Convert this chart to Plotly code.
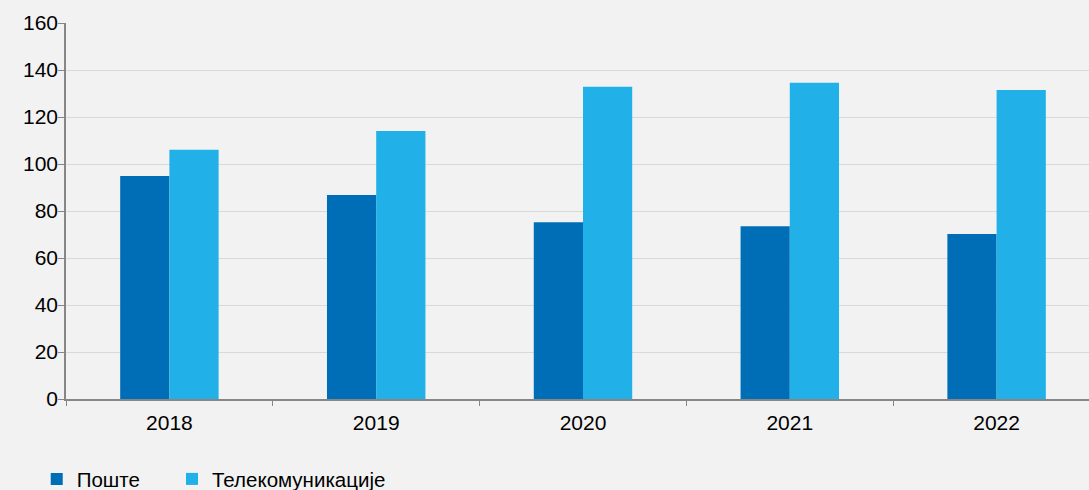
import plotly.graph_objects as go

years = ["2018", "2019", "2020", "2021", "2022"]
poste = [94.9, 86.8, 75.2, 73.5, 70.2]
telekom = [106.1, 114.0, 132.9, 134.6, 131.5]

fig = go.Figure()
fig.add_trace(go.Bar(name="Поште", x=years, y=poste,
                     marker=dict(color="#006EB7", line=dict(width=0)), legend="legend"))
fig.add_trace(go.Bar(name="Телекомуникације", x=years, y=telekom,
                     marker=dict(color="#21B0E8", line=dict(width=0)), legend="legend2"))

legend_style = dict(
    orientation="h", y=-0.213, yanchor="middle",
    bgcolor="rgba(0,0,0,0)", font=dict(size=20.5),
)

# plot area runs slightly past the right edge of the window, as in the reference
fig.update_layout(
    width=1100,
    height=490,
    barmode="group",
    bargap=0.524,
    bargroupgap=0,
    plot_bgcolor="#F2F2F2",
    paper_bgcolor="#F2F2F2",
    margin=dict(l=66, r=0, t=23, b=91, autoexpand=False),
    font=dict(family="Liberation Sans, Arial, sans-serif", size=21, color="#000000"),
    xaxis=dict(
        showline=True, linecolor="#868686", linewidth=1.5,
        ticks="outside", tickson="boundaries", ticklen=5, tickcolor="#868686",
        ticklabelstandoff=4,
        showgrid=False,
    ),
    yaxis=dict(
        range=[0, 160], dtick=20,
        showline=True, linecolor="#868686", linewidth=1.5,
        ticks="outside", ticklen=6, tickcolor="#868686",
        ticklabelstandoff=-4,
        gridcolor="#D9D9D9", gridwidth=1, zeroline=False,
    ),
    showlegend=True,
    legend=dict(x=-0.0283, xanchor="left", **legend_style),
    legend2=dict(x=0.1025, xanchor="left", **legend_style),
)

fig.write_html(
    "out.html",
    config={"displayModeBar": False},
    post_script="document.body.style.margin='0';document.body.style.overflow='hidden';",
)
